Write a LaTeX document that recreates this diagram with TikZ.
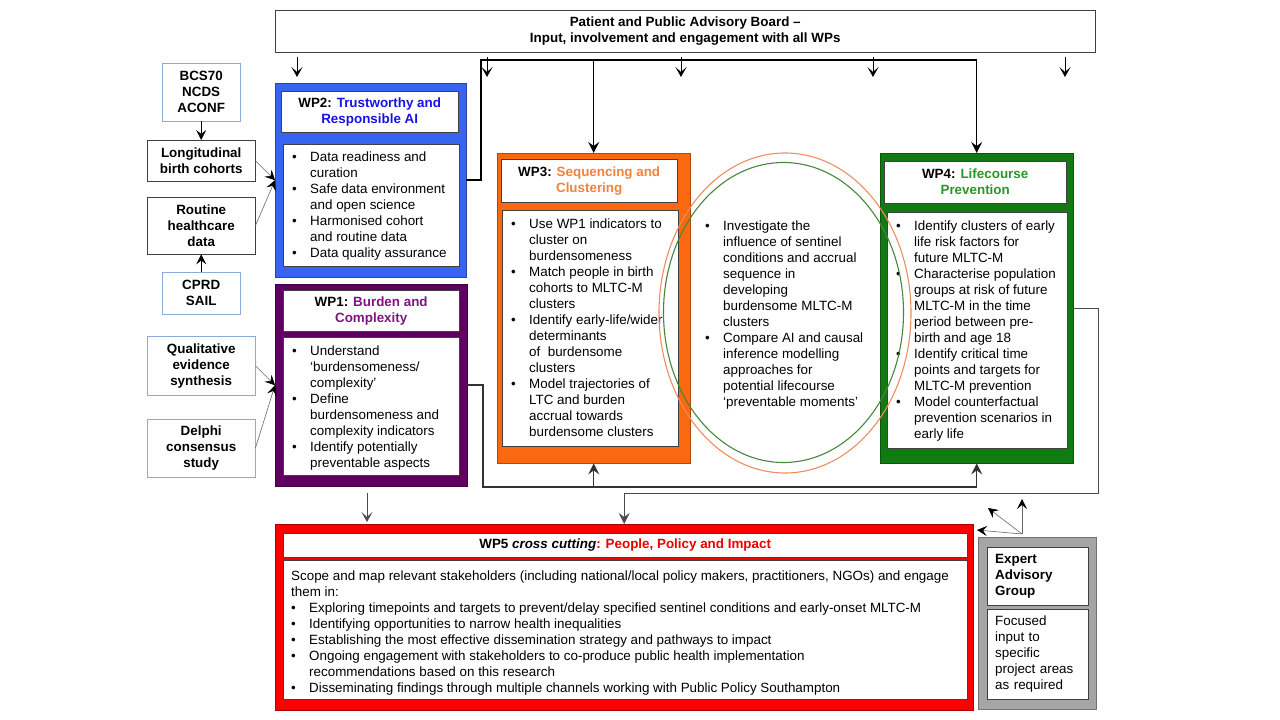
\documentclass[tikz,border=0pt]{standalone}
\usepackage{fontspec}
\setmainfont{Liberation Sans}
\usetikzlibrary{arrows.meta}
\definecolor{wptwofill}{RGB}{55,100,240}
\definecolor{wptwotxt}{RGB}{20,20,230}
\definecolor{wponefill}{RGB}{94,0,98}
\definecolor{wponetxt}{RGB}{128,20,128}
\definecolor{wpthreefill}{RGB}{250,105,15}
\definecolor{wpthreetxt}{RGB}{242,130,60}
\definecolor{wpfourfill}{RGB}{18,122,18}
\definecolor{wpfourtxt}{RGB}{40,150,40}
\definecolor{wpfivefill}{RGB}{250,0,0}
\definecolor{wpfivetxt}{RGB}{235,0,0}
\definecolor{eagfill}{RGB}{165,165,165}
\definecolor{srcblue}{RGB}{140,170,220}
\definecolor{ringorange}{RGB}{240,140,95}
\definecolor{ringgreen}{RGB}{70,135,60}
\newcommand{\blist}[1]{\begin{tabular}[t]{@{}p{18pt}@{}l@{}}#1\end{tabular}}

\begin{document}
\begin{tikzpicture}[x=1pt, y=-1pt,
  font=\fontsize{13.4}{16}\selectfont,
  box/.style={draw=black!75, fill=white, inner sep=0pt, align=center, anchor=north west},
  srcbox/.style={box, font=\fontsize{13.4}{16}\selectfont\bfseries},
  wpbox/.style={draw=#1!70!black, fill=#1, inner sep=0pt, anchor=north west},
  wptitle/.style={box, font=\fontsize{13.4}{16}\selectfont\bfseries},
  bullets/.style={anchor=north west, inner sep=0pt, align=left},
  link/.style={line width=1.5pt, -{Stealth[length=11pt,width=11pt,inset=4pt]}},
  feed/.style={line width=0.6pt, draw=black!60, -{Stealth[black,length=10pt,width=10pt,inset=4pt]}},
  pointer/.style={line width=0.8pt, -{Stealth[length=10pt,width=11pt,inset=5pt]}}]
\useasboundingbox (0,0) rectangle (1280,720);

% advisory board
\node[wptitle, minimum width=820, minimum height=42] (ppab) at (275,10)
  {Patient and Public Advisory Board --\\Input, involvement and engagement with all WPs};
\foreach \x in {297,487,681,873,1065} {
  \coordinate (s\x) at (\x,57);
  \coordinate (t\x) at (\x,77);
  \draw[pointer] (s\x) -- (t\x);
}

% data sources
\node[srcbox, draw=srcblue, minimum width=78, minimum height=58] (bcs) at (162,63) {BCS70\\NCDS\\ACONF};
\node[srcbox, minimum width=108, minimum height=41] (lbc) at (147,140) {Longitudinal\\birth cohorts};
\node[srcbox, minimum width=108, minimum height=57] (rhd) at (147,197) {Routine\\healthcare\\data};
\node[srcbox, draw=srcblue, minimum width=78, minimum height=42] (cprd) at (162,272) {CPRD\\SAIL};
\node[srcbox, draw=srcblue, minimum width=108, minimum height=59] (qes) at (147,336) {Qualitative\\evidence\\synthesis};
\node[srcbox, draw=srcblue, minimum width=108, minimum height=58] (dcs) at (147,419) {Delphi\\consensus\\study};

% WP2
\node[wpbox=wptwofill, minimum width=191, minimum height=194] (wp2) at (275,83) {};
\node[wptitle, minimum width=177, minimum height=41] (wp2t) at (281,91)
  {WP2: \textcolor{wptwotxt}{Trustworthy and}\\\textcolor{wptwotxt}{Responsible AI}};
\node[box, minimum width=176, minimum height=122] (wp2b) at (283,144) {};
\node[bullets] (wp2l) at (292,150) {\blist{
  • & Data readiness and\\ & curation\\
  • & Safe data environment\\ & and open science\\
  • & Harmonised cohort\\ & and routine data\\
  • & Data quality assurance}};

% WP1
\node[wpbox=wponefill, minimum width=192, minimum height=202] (wp1) at (275,284) {};
\node[wptitle, minimum width=176, minimum height=41] (wp1t) at (283,290)
  {WP1: \textcolor{wponetxt}{Burden and}\\\textcolor{wponetxt}{Complexity}};
\node[box, minimum width=176, minimum height=138] (wp1b) at (283,337) {};
\node[bullets] (wp1l) at (292,344) {\blist{
  • & Understand\\ & ‘burdensomeness/\\ & complexity’\\
  • & Define\\ & burdensomeness and\\ & complexity indicators\\
  • & Identify potentially\\ & preventable aspects}};

% WP3
\node[wpbox=wpthreefill, minimum width=193, minimum height=310] (wp3) at (497,153) {};
\node[wptitle, minimum width=176, minimum height=43] (wp3t) at (501,159)
  {WP3: \textcolor{wpthreetxt}{Sequencing and}\\\textcolor{wpthreetxt}{Clustering}};
\node[box, minimum width=176, minimum height=236] (wp3b) at (502,210) {};
\node[bullets] (wp3l) at (511,217) {\blist{
  • & Use WP1 indicators to\\ & cluster on\\ & burdensomeness\\
  • & Match people in birth\\ & cohorts to MLTC-M\\ & clusters\\
  • & Identify early-life/wider\\ & determinants\\ & of~ burdensome\\ & clusters\\
  • & Model trajectories of\\ & LTC and burden\\ & accrual towards\\ & burdensome clusters}};

% WP4
\node[wpbox=wpfourfill, minimum width=193, minimum height=310] (wp4) at (880,153) {};
\node[wptitle, minimum width=182, minimum height=42] (wp4t) at (884,161)
  {WP4: \textcolor{wpfourtxt}{Lifecourse}\\\textcolor{wpfourtxt}{Prevention}};
\node[box, minimum width=180, minimum height=236] (wp4b) at (887,212) {};
\node[bullets] (wp4l) at (896,219) {\blist{
  • & Identify clusters of early\\ & life risk factors for\\ & future MLTC-M\\
  • & Characterise population\\ & groups at risk of future\\ & MLTC-M in the time\\ & period between pre-\\ & birth and age 18\\
  • & Identify critical time\\ & points and targets for\\ & MLTC-M prevention\\
  • & Model counterfactual\\ & prevention scenarios in\\ & early life}};

% shared WP3/WP4 work
\node[bullets] (ovl) at (705,219) {\blist{
  • & Investigate the\\ & influence of sentinel\\ & conditions and accrual\\ & sequence in\\ & developing\\ & burdensome MLTC-M\\ & clusters\\
  • & Compare AI and causal\\ & inference modelling\\ & approaches for\\ & potential lifecourse\\ & ‘preventable moments’}};
\draw[ringorange, line width=1.1pt] (785,313) ellipse [x radius=126pt, y radius=160pt];
\draw[ringgreen, line width=1.1pt] (783.5,312.5) ellipse [x radius=120pt, y radius=150pt];

% WP5
\node[wpbox=wpfivefill, minimum width=698, minimum height=186] (wp5) at (275,524) {};
\node[wptitle, minimum width=684, minimum height=24] (wp5t) at (283,533)
  {WP5 \textit{cross cutting}\textcolor{wpfivetxt}{: People, Policy and Impact}};
\node[box, minimum width=684, minimum height=139] (wp5b) at (283,560) {};
\node[bullets] (wp5l) at (291,569) {\blist{
  \multicolumn{2}{@{}l@{}}{Scope and map relevant stakeholders (including national/local policy makers, practitioners, NGOs) and engage}\\
  \multicolumn{2}{@{}l@{}}{them in:}\\
  • & Exploring timepoints and targets to prevent/delay specified sentinel conditions and early-onset MLTC-M\\
  • & Identifying opportunities to narrow health inequalities\\
  • & Establishing the most effective dissemination strategy and pathways to impact\\
  • & Ongoing engagement with stakeholders to co-produce public health implementation\\
    & recommendations based on this research\\
  • & Disseminating findings through multiple channels working with Public Policy Southampton}};

% expert advisory group
\node[wpbox=eagfill, minimum width=118, minimum height=172] (eag) at (978,537) {};
\node[wptitle, minimum width=101, minimum height=58, text width=85, align=left] (eagt) at (987,547)
  {Expert\\Advisory\\Group};
\node[box, minimum width=101, minimum height=90, text width=85, align=left] (eagb) at (987,609)
  {Focused\\input to\\specific\\project areas\\as required};

% connectors
\draw[feed, draw=black] (bcs.south) -- (lbc.north);
\draw[feed, draw=black] (cprd.north) -- (rhd.south);
\draw[feed] (lbc.east) -- (wp2.west);
\draw[feed] (rhd.east) -- (wp2.west);
\draw[feed] (qes.east) -- (wp1.west);
\draw[feed] (dcs.east) -- (wp1.west);

\coordinate (ja) at (481,60);
\draw[link] (wp2.east) -| (ja) -| (wp4.north);
\draw[link] (wp3.north |- ja) -- (wp3.north);

\coordinate (jb) at (483,487);
\draw[link, draw=black!80] (wp1.east) -| (jb) -| (wp4.south);
\draw[link, draw=black!80] (wp3.south |- jb) -- (wp3.south);

\coordinate (jc) at (1098,493);
\draw[link, line width=1pt, draw=black!70] (wp4.east) -| (jc) -| (wp5.north);

\coordinate (wa) at (367,493);
\coordinate (wb) at (367,522);
\draw[pointer, draw=black!70] (wa) -- (wb);

\coordinate (eo) at (1022,534);
\coordinate (e1) at (977,530);
\coordinate (e2) at (988,508);
\coordinate (e3) at (1022,499);
\foreach \e in {e1,e2,e3}
  \draw[feed] (eo) -- (\e);
\end{tikzpicture}
\end{document}
